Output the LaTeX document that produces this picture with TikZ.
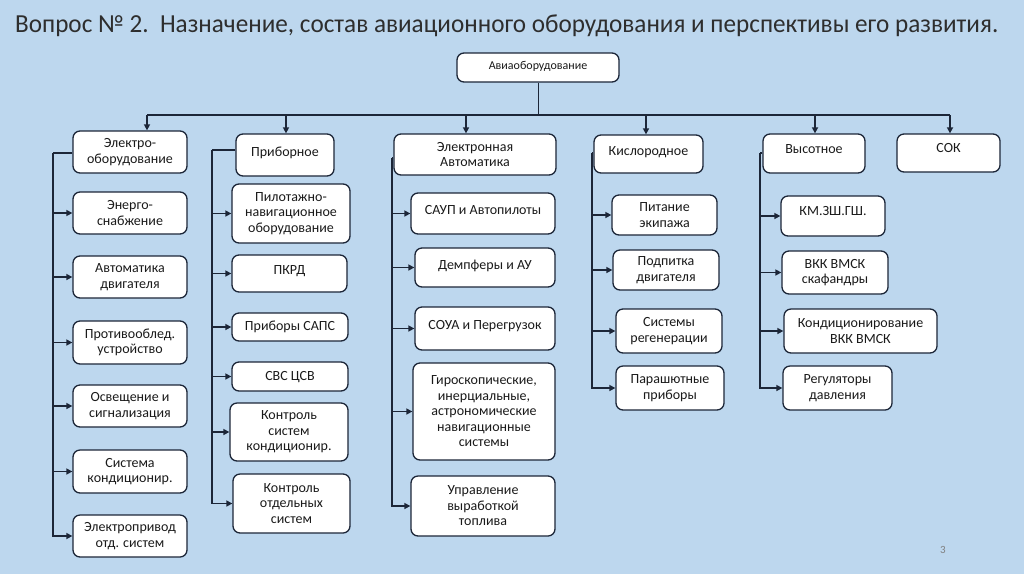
\documentclass[tikz,border=0pt]{standalone}
\usepackage{fontspec}
\setmainfont{Carlito}
\usetikzlibrary{arrows.meta}
\definecolor{bg}{HTML}{BDD7EE}
\definecolor{ln}{HTML}{1C2638}
\definecolor{tx}{HTML}{1A1A1A}
\definecolor{ttl}{HTML}{2E2E2E}
\tikzset{
  bx/.style={draw=ln, fill=white, line width=1.3pt, rounded corners=7pt, inner xsep=1pt, inner ysep=0pt,
    align=center, font=\fontsize{14}{15.5}\selectfont, text=tx},
  conn/.style={draw=ln, line width=1.5pt},
  thin conn/.style={draw=ln, line width=0.9pt},
  arr/.style={conn, -{Triangle[length=6pt,width=6pt]}},
}
% centred box: name, x1, y1, x2, y2, text
\newcommand\bxc[6]{%
  \pgfmathsetmacro\bxw{#4-#2}\pgfmathsetmacro\bxh{#5-#3}%
  \node[bx, minimum width=\bxw pt, minimum height=\bxh pt] (#1) at ({(#2+#4)/2},{(#3+#5)/2}) {#6};}
% box with baseline: name, x1, y1, x2, y2, baseline y, text
\newcommand\bxb[7]{%
  \pgfmathsetmacro\bxw{#4-#2}\pgfmathsetmacro\bxt{#6-#3}\pgfmathsetmacro\bxd{#5-#6}%
  \node[bx, anchor=base, minimum width=\bxw pt, text height=\bxt pt, text depth=\bxd pt] (#1) at ({(#2+#4)/2},#6) {#7};}
\begin{document}
\begin{tikzpicture}[x=1pt,y=-1pt]
\fill[bg] (0,0) rectangle (1024,574);
\useasboundingbox (0,0) rectangle (1024,574);

\node[anchor=base west, inner sep=0pt, text=ttl, font=\fontsize{26}{30}\selectfont] (title) at (15,32)
  {\resizebox{983pt}{\height}{Вопрос № 2.\ \ Назначение, состав авиационного оборудования и перспективы его развития.}};

% top
\bxb{top}{457}{53}{619}{82}{69}{\fontsize{12}{14}\selectfont Авиаоборудование}

% column 1
\bxc{c1a}{73}{131}{187}{173}{Электро-\\оборудование}
\bxc{c1b}{73}{192}{187}{234}{Энерго-\\снабжение}
\bxc{c1c}{73}{256}{187}{298}{Автоматика\\двигателя}
\bxc{c1d}{73}{321}{187}{364}{Противооблед.\\устройство}
\bxc{c1e}{73}{385}{187}{427}{Освещение и\\сигнализация}
\bxc{c1f}{73}{450}{187}{493}{Система\\кондиционир.}
\bxc{c1g}{73}{515}{187}{557}{Электропривод\\отд. систем}

% column 2
\bxb{c2a}{236}{134}{334}{176}{156}{Приборное}
\bxc{c2b}{232}{184}{350}{243}{Пилотажно-\\навигационное\\оборудование}
\bxb{c2c}{232}{255}{347}{292}{274}{ПКРД}
\bxb{c2d}{232}{313}{348}{341}{330}{Приборы САПС}
\bxb{c2e}{232}{362}{348}{391}{380}{СВС ЦСВ}
\bxc{c2f}{230}{403}{348}{461}{Контроль\\систем\\кондиционир.}
\bxc{c2g}{233}{474}{350}{533}{Контроль\\отдельных\\систем}

% column 3
\bxc{c3a}{394}{134}{556}{175}{Электронная\\Автоматика}
\bxb{c3b}{411}{193}{555}{234}{214}{САУП и Автопилоты}
\bxb{c3c}{415}{248}{555}{287}{269}{Демпферы и АУ}
\bxb{c3d}{415}{307}{555}{350}{329}{СОУА и Перегрузок}
\bxc{c3e}{413}{363}{555}{460}{Гироскопические,\\инерциальные,\\астрономические\\навигационные\\системы}
\bxc{c3f}{411}{476}{555}{536}{Управление\\выработкой\\топлива}

% column 4
\bxb{c4a}{594}{135}{703}{173}{155}{Кислородное}
\bxc{c4b}{612}{195}{717}{235}{Питание\\экипажа}
\bxc{c4c}{613}{250}{719}{290}{Подпитка\\двигателя}
\bxc{c4d}{616}{309}{722}{353}{Системы\\регенерации}
\bxc{c4e}{616}{366}{724}{410}{Парашютные\\приборы}

% column 5
\bxb{c5a}{763}{134}{865}{173}{153}{Высотное}
\bxb{c5b}{781}{196}{885}{236}{215}{КМ.ЗШ.ГШ.}
\bxc{c5c}{782}{251}{888}{294}{ВКК ВМСК\\скафандры}
\bxc{c5d}{784}{309}{937}{353}{Кондиционирование\\ВКК ВМСК}
\bxc{c5e}{783}{366}{892}{410}{Регуляторы\\давления}

% column 6
\bxb{c6a}{897}{134}{1000}{172}{152}{СОК}

% page number
\node[anchor=base, inner sep=0pt, text=gray, font=\fontsize{11}{12}\selectfont] (pg) at (943,553) {3};

% top bar
\coordinate (t1) at (147,115);
\coordinate (t2) at (286,115);
\coordinate (t3) at (466,115);
\coordinate (t4) at (646,115);
\coordinate (t5) at (815,115);
\coordinate (t6) at (950,115);
\draw[thin conn] (top.south) -- (top.south |- t1);
\draw[conn] (t1) -- (t6);
\draw[arr] (t1) -- (t1 |- c1a.north);
\draw[arr] (t2) -- (t2 |- c2a.north);
\draw[arr] (t3) -- (t3 |- c3a.north);
\draw[arr] (t4) -- (t4 |- c4a.north);
\draw[arr] (t5) -- (t5 |- c5a.north);
\draw[arr] (t6) -- (t6 |- c6a.north);

% column buses
\coordinate (b1) at (53,153);
\draw[conn] (c1a.west |- b1) -- (b1);
\foreach \n in {b,c,d,e,f} \draw[arr] (b1 |- c1\n.west) -- (c1\n.west);
\draw[arr] (b1) |- (c1g.west);

\coordinate (b2) at (212,150);
\draw[conn] (c2a.west |- b2) -- (b2);
\foreach \n in {b,c,d,e,f} \draw[arr] (b2 |- c2\n.west) -- (c2\n.west);
\draw[arr] (b2) |- (c2g.west);

\coordinate (b3) at (392,158);
\draw[conn] (c3a.west |- b3) -- (b3);
\foreach \n in {b,c,d,e} \draw[arr] (b3 |- c3\n.west) -- (c3\n.west);
\draw[arr] (b3) |- (c3f.west);

\coordinate (b4) at (592,153);
\draw[conn] (c4a.west |- b4) -- (b4);
\foreach \n in {b,c,d} \draw[arr] (b4 |- c4\n.west) -- (c4\n.west);
\draw[arr] (b4) |- (c4e.west);

\coordinate (b5) at (760,153);
\draw[conn] (c5a.west |- b5) -- (b5);
\foreach \n in {b,c,d} \draw[arr] (b5 |- c5\n.west) -- (c5\n.west);
\draw[arr] (b5) |- (c5e.west);
\end{tikzpicture}
\end{document}
